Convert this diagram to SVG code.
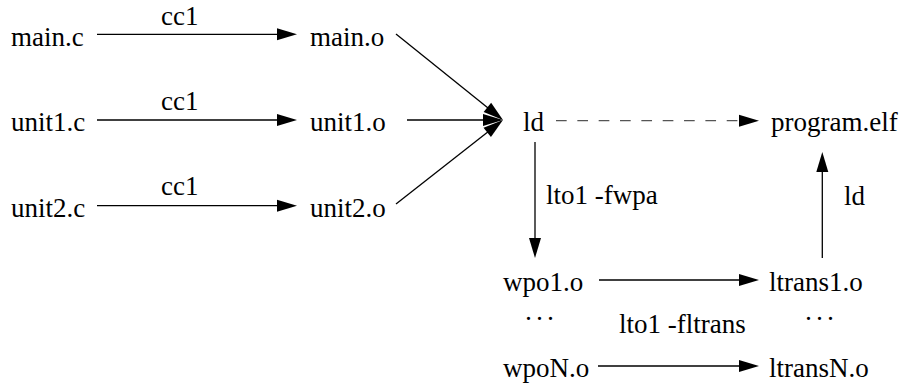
<svg xmlns="http://www.w3.org/2000/svg" width="905" height="383" viewBox="0 0 905 383">
<style>
.e{stroke:#000;stroke-width:1.3;fill:none}
.d{stroke-dasharray:10.67 10.67;stroke:#555}
.t{font-family:'Liberation Serif',serif;font-size:27px;fill:#000}
</style>
<defs>
<marker id="ah" markerUnits="userSpaceOnUse" markerWidth="21" markerHeight="12" refX="10" refY="6" orient="auto" overflow="visible">
<path d="M0,0 L20,6 L0,12 Z" fill="#000"/>
</marker>
</defs>
<rect width="905" height="383" fill="#fff"/>
<g id="connectors">
<line class="e" x1="97" y1="34.3" x2="287" y2="34.3" marker-end="url(#ah)"/>
<line class="e" x1="97" y1="120" x2="287" y2="120" marker-end="url(#ah)"/>
<line class="e" x1="97" y1="205.7" x2="287" y2="205.7" marker-end="url(#ah)"/>
<line class="e" x1="396" y1="34" x2="495.2" y2="113.7" marker-end="url(#ah)"/>
<line class="e" x1="407" y1="120" x2="493" y2="120" marker-end="url(#ah)"/>
<line class="e" x1="396" y1="204" x2="495.1" y2="126.2" marker-end="url(#ah)"/>
<line class="e d" x1="556" y1="120.7" x2="749" y2="120.7" marker-end="url(#ah)"/>
<line class="e" x1="535" y1="142" x2="535" y2="248" marker-end="url(#ah)"/>
<line class="e" x1="822.3" y1="258" x2="822.3" y2="162" marker-end="url(#ah)"/>
<line class="e" x1="599" y1="280" x2="749" y2="280" marker-end="url(#ah)"/>
<line class="e" x1="598" y1="366" x2="749" y2="366" marker-end="url(#ah)"/>
<text class="t" x="161" y="25" font-family="'Liberation Serif'">cc1</text>
<text class="t" x="161" y="110" font-family="'Liberation Serif'">cc1</text>
<text class="t" x="161" y="195" font-family="'Liberation Serif'">cc1</text>
<text class="t" x="546" y="204" font-family="'Liberation Serif'">lto1 -fwpa</text>
<text class="t" x="844" y="205" font-family="'Liberation Serif'">ld</text>
<text class="t" x="619" y="333" font-family="'Liberation Serif'">lto1 -fltrans</text>
</g>
<g id="main_c"><text class="t" x="11" y="45.5" font-family="'Liberation Serif'">main.c</text></g>
<g id="unit1_c"><text class="t" x="11" y="131" font-family="'Liberation Serif'">unit1.c</text></g>
<g id="unit2_c"><text class="t" x="11" y="216.5" font-family="'Liberation Serif'">unit2.c</text></g>
<g id="main_o"><text class="t" x="310" y="45.5" font-family="'Liberation Serif'">main.o</text></g>
<g id="unit1_o"><text class="t" x="310" y="131" font-family="'Liberation Serif'">unit1.o</text></g>
<g id="unit2_o"><text class="t" x="310" y="216.5" font-family="'Liberation Serif'">unit2.o</text></g>
<g id="ld"><text class="t" x="523" y="131" font-family="'Liberation Serif'">ld</text></g>
<g id="program_elf"><text class="t" x="771" y="131" font-family="'Liberation Serif'">program.elf</text></g>
<g id="wpo1_o"><text class="t" x="503" y="291" font-family="'Liberation Serif'">wpo1.o</text></g>
<g id="ltrans1_o"><text class="t" x="769" y="291" font-family="'Liberation Serif'">ltrans1.o</text></g>
<g id="dots_left"><text class="t" x="524" y="328" letter-spacing="2" font-family="'Liberation Serif'">···</text></g>
<g id="dots_right"><text class="t" x="804" y="328" letter-spacing="2" font-family="'Liberation Serif'">···</text></g>
<g id="wpoN_o"><text class="t" x="503" y="377" font-family="'Liberation Serif'">wpoN.o</text></g>
<g id="ltransN_o"><text class="t" x="769" y="377" font-family="'Liberation Serif'">ltransN.o</text></g>
</svg>
